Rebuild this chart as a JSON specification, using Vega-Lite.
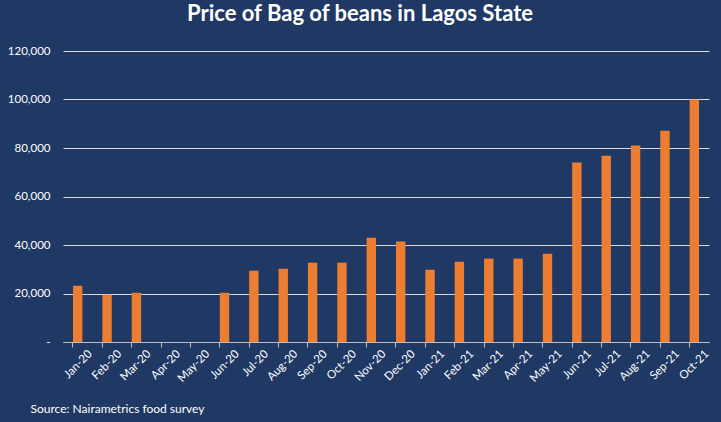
{
  "$schema": "https://vega.github.io/schema/vega-lite/v6.json",
  "autosize": "none",
  "width": 646,
  "height": 291,
  "padding": {"left": 63, "top": 51, "right": 12, "bottom": 80},
  "background": "#203864",
  "title": {
    "text": "Price of Bag of beans in Lagos State",
    "font": "Lato",
    "fontSize": 22,
    "fontWeight": "bold",
    "color": "#ffffff",
    "anchor": "middle",
    "dx": -26,
    "offset": 19
  },
  "config": {
    "view": {"stroke": null},
    "font": "Lato"
  },
  "data": {
    "values": [
      {"month": "Jan-20", "price": 23200},
      {"month": "Feb-20", "price": 19500},
      {"month": "Mar-20", "price": 20300},
      {"month": "Apr-20", "price": null},
      {"month": "May-20", "price": null},
      {"month": "Jun-20", "price": 20300},
      {"month": "Jul-20", "price": 29400},
      {"month": "Aug-20", "price": 30200},
      {"month": "Sep-20", "price": 32700},
      {"month": "Oct-20", "price": 32700},
      {"month": "Nov-20", "price": 43000},
      {"month": "Dec-20", "price": 41400},
      {"month": "Jan-21", "price": 29800},
      {"month": "Feb-21", "price": 33100},
      {"month": "Mar-21", "price": 34400},
      {"month": "Apr-21", "price": 34400},
      {"month": "May-21", "price": 36400},
      {"month": "Jun-21", "price": 74000},
      {"month": "Jul-21", "price": 76800},
      {"month": "Aug-21", "price": 81000},
      {"month": "Sep-21", "price": 87100},
      {"month": "Oct-21", "price": 100000}
    ]
  },
  "mark": {"type": "bar", "color": "#ed7d31"},
  "encoding": {
    "x": {
      "field": "month",
      "type": "nominal",
      "sort": null,
      "scale": {
        "domain": ["Jan-20", "Feb-20", "Mar-20", "Apr-20", "May-20", "Jun-20", "Jul-20", "Aug-20", "Sep-20", "Oct-20", "Nov-20", "Dec-20", "Jan-21", "Feb-21", "Mar-21", "Apr-21", "May-21", "Jun-21", "Jul-21", "Aug-21", "Sep-21", "Oct-21"],
        "paddingInner": 0.68,
        "paddingOuter": 0.34
      },
      "axis": {
        "title": "Source: Nairametrics food survey",
        "titleColor": "#ffffff",
        "titleFont": "Lato",
        "titleFontSize": 12,
        "titleFontWeight": "normal",
        "titleAnchor": "start",
        "titleAlign": "left",
        "titleBaseline": "middle",
        "titleX": -33,
        "titleY": 66,
        "bandPosition": 0,
        "labelOffset": 13,
        "labelAngle": -45,
        "labelAlign": "right",
        "labelBaseline": "middle",
        "labelPadding": 5,
        "labelColor": "#ffffff",
        "labelFontSize": 11.5,
        "domainColor": "#bfbfbf",
        "tickColor": "#bfbfbf",
        "tickSize": 5
      }
    },
    "y": {
      "field": "price",
      "type": "quantitative",
      "scale": {"domain": [0, 120000], "nice": false},
      "axis": {
        "title": null,
        "values": [0, 20000, 40000, 60000, 80000, 100000, 120000],
        "labelExpr": "datum.value == 0 ? '-' : format(datum.value, ',')",
        "labelColor": "#ffffff",
        "labelFontSize": 11.5,
        "labelPadding": 13,
        "ticks": false,
        "domain": false,
        "gridColor": "#d9d9d9",
        "gridWidth": 1
      }
    }
  }
}
